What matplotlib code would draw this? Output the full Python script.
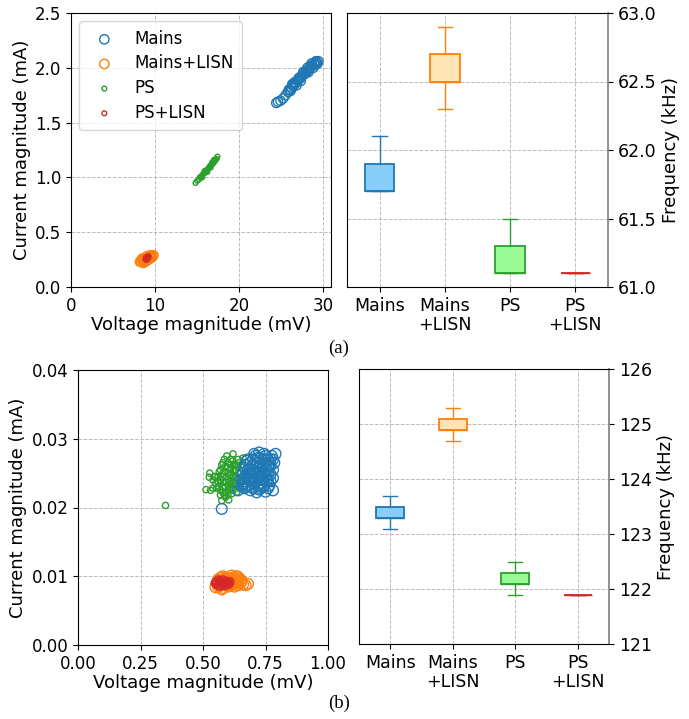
import matplotlib
matplotlib.use("Agg")
import matplotlib.pyplot as plt

labels = ['Mains', 'Mains+LISN', 'PS', 'PS+LISN']
box_labels = ['Mains', 'Mains\n+LISN', 'PS', 'PS\n+LISN']

# ---- (a) scatter data: voltage (mV), current (mA)
a_mains_x = [24.4, 24.6, 24.9, 25.2, 25.5, 25.8, 26.0, 26.1, 26.2, 26.3, 26.4, 26.5, 26.7, 26.8,
             26.9, 27.0, 27.2, 27.3, 27.4, 27.5, 27.6, 27.7, 27.8, 27.9, 28.0, 28.1, 28.2, 28.3,
             28.4, 28.5, 28.6, 28.7, 28.8, 28.9, 29.0, 29.1, 29.2, 29.3, 29.4,
             26.6, 27.1, 27.6, 28.1, 28.6, 29.1, 25.9, 26.4]
a_mains_y = [1.68, 1.69, 1.70, 1.72, 1.75, 1.78, 1.80, 1.79, 1.82, 1.85, 1.83, 1.85, 1.86, 1.84,
             1.88, 1.89, 1.90, 1.88, 1.92, 1.93, 1.96, 1.94, 1.95, 1.97, 1.96, 1.98, 1.96, 1.99,
             2.00, 2.02, 2.01, 2.02, 2.00, 2.03, 2.04, 2.06, 2.05, 2.04, 2.06,
             1.87, 1.91, 1.94, 2.00, 2.04, 2.03, 1.80, 1.85]
a_mlisn_x = [8.2, 8.3, 8.4, 8.5, 8.5, 8.6, 8.7, 8.8, 8.9, 9.0, 9.0, 9.1, 9.2, 9.3, 9.4, 9.4,
             9.5, 9.6, 9.7, 9.8]
a_mlisn_y = [0.23, 0.23, 0.25, 0.24, 0.26, 0.22, 0.25, 0.23, 0.26, 0.24, 0.28, 0.26, 0.25, 0.27,
             0.26, 0.29, 0.28, 0.27, 0.28, 0.29]
a_ps_x = [14.8, 15.0, 15.2, 15.3, 15.4, 15.5, 15.6, 15.6, 15.7, 15.8, 15.9, 15.9, 16.0, 16.1,
          16.2, 16.2, 16.3, 16.4, 16.5, 16.6, 16.6, 16.7, 16.8, 16.8, 16.9, 17.0, 17.0, 17.1,
          17.2, 17.3, 17.4]
a_ps_y = [0.95, 0.97, 0.98, 1.00, 1.00, 1.01, 1.02, 1.00, 1.03, 1.04, 1.04, 1.06, 1.05, 1.06,
          1.07, 1.05, 1.08, 1.09, 1.10, 1.11, 1.09, 1.12, 1.12, 1.14, 1.13, 1.14, 1.16, 1.15,
          1.16, 1.17, 1.19]
a_plisn_x = [8.85, 8.9, 8.95, 9.0, 9.0, 9.05, 9.1, 9.1, 9.15, 9.2, 9.2, 8.9, 9.0]
a_plisn_y = [0.25, 0.26, 0.25, 0.26, 0.27, 0.26, 0.27, 0.26, 0.28, 0.27, 0.28, 0.27, 0.25]

# ---- (b) scatter data
b_mains_x = [0.66, 0.67, 0.68, 0.69, 0.70, 0.71, 0.72, 0.73, 0.74, 0.75, 0.76, 0.77, 0.75, 0.73,
             0.71, 0.69, 0.68, 0.70, 0.72, 0.74, 0.76, 0.78, 0.77, 0.66, 0.67, 0.65, 0.70, 0.72,
             0.74, 0.73, 0.71, 0.69, 0.75, 0.78, 0.79, 0.78, 0.575, 0.64, 0.68, 0.76, 0.715,
             0.665, 0.745, 0.70, 0.725, 0.755, 0.685, 0.73,
             0.68, 0.69, 0.70, 0.71, 0.72, 0.72, 0.73, 0.74, 0.74, 0.75, 0.76, 0.76, 0.77, 0.77,
             0.71, 0.70, 0.69, 0.67, 0.68, 0.67, 0.66, 0.665, 0.675, 0.705, 0.725, 0.735, 0.745,
             0.755, 0.765, 0.775, 0.785, 0.715, 0.695, 0.725, 0.735, 0.705, 0.745, 0.765, 0.78,
             0.655]
b_mains_y = [0.0235, 0.0245, 0.0255, 0.0265, 0.0270, 0.0260, 0.0250, 0.0240, 0.0230, 0.0245,
             0.0260, 0.0270, 0.0275, 0.0272, 0.0275, 0.0245, 0.0232, 0.0228, 0.0232, 0.0252,
             0.0238, 0.0255, 0.0248, 0.0250, 0.0262, 0.0240, 0.0250, 0.0265, 0.0265, 0.0255,
             0.0242, 0.0225, 0.0223, 0.0270, 0.0278, 0.0243, 0.0198, 0.0225, 0.0270, 0.0228,
             0.0222, 0.0228, 0.0278, 0.0240, 0.0245, 0.0255, 0.0250, 0.0228,
             0.0240, 0.0255, 0.0262, 0.0268, 0.0258, 0.0272, 0.0262, 0.0258, 0.0242, 0.0265,
             0.0270, 0.0250, 0.0260, 0.0238, 0.0252, 0.0235, 0.0238, 0.0238, 0.0248, 0.0230,
             0.0242, 0.0258, 0.0268, 0.0278, 0.0280, 0.0235, 0.0232, 0.0240, 0.0262, 0.0275,
             0.0265, 0.0238, 0.0230, 0.0226, 0.0248, 0.0245, 0.0270, 0.0232, 0.0225, 0.0232]
b_mlisn_x = [0.56, 0.57, 0.58, 0.59, 0.60, 0.61, 0.62, 0.63, 0.64, 0.65, 0.62, 0.60, 0.58,
             0.555, 0.615, 0.635, 0.645, 0.66, 0.68, 0.67, 0.625, 0.60, 0.59, 0.57, 0.64, 0.65,
             0.56, 0.57, 0.58, 0.59, 0.61, 0.62, 0.63, 0.64, 0.60, 0.61, 0.55, 0.575, 0.655,
             0.625]
b_mlisn_y = [0.0085, 0.0090, 0.0095, 0.0088, 0.0092, 0.0096, 0.0098, 0.0095, 0.0092, 0.0090,
             0.0088, 0.0085, 0.0083, 0.0090, 0.0101, 0.0100, 0.0097, 0.0088, 0.0089, 0.0087,
             0.0092, 0.0097, 0.0093, 0.0086, 0.0087, 0.0095,
             0.0095, 0.0098, 0.0100, 0.0098, 0.0090, 0.0095, 0.0089, 0.0099, 0.0088, 0.0086,
             0.0084, 0.0081, 0.0093, 0.0085]
b_ps_x = [0.56, 0.57, 0.58, 0.59, 0.60, 0.61, 0.62, 0.63, 0.64, 0.65, 0.64, 0.62, 0.60, 0.59,
          0.58, 0.60, 0.62, 0.61, 0.57, 0.56, 0.55, 0.54, 0.545, 0.63, 0.65, 0.66, 0.655, 0.62,
          0.603, 0.59, 0.575, 0.512, 0.525, 0.527, 0.60, 0.61, 0.58, 0.57, 0.635, 0.64, 0.66,
          0.35, 0.595, 0.605, 0.615, 0.585,
          0.57, 0.58, 0.59, 0.60, 0.61, 0.62, 0.63, 0.64, 0.63, 0.61, 0.60, 0.59, 0.58, 0.57,
          0.56, 0.55, 0.555, 0.565, 0.575, 0.585, 0.595, 0.605, 0.615, 0.625, 0.635, 0.645,
          0.655, 0.60, 0.615, 0.585, 0.54, 0.53, 0.625, 0.645]
b_ps_y = [0.0230, 0.0240, 0.0250, 0.0260, 0.0265, 0.0255, 0.0245, 0.0235, 0.0240, 0.0250,
          0.0260, 0.0268, 0.0240, 0.0230, 0.0222, 0.0218, 0.0225, 0.0235, 0.0225, 0.0245,
          0.0235, 0.0228, 0.0245, 0.0255, 0.0232, 0.0245, 0.0262, 0.0278, 0.0211, 0.0215,
          0.0210, 0.0226, 0.0244, 0.0250, 0.0250, 0.0262, 0.0265, 0.0255, 0.0222, 0.0270,
          0.0272, 0.0203, 0.0245, 0.0228, 0.0242, 0.0237,
          0.0235, 0.0245, 0.0252, 0.0258, 0.0248, 0.0238, 0.0245, 0.0250, 0.0262, 0.0270,
          0.0232, 0.0222, 0.0230, 0.0218, 0.0238, 0.0245, 0.0228, 0.0252, 0.0262, 0.0270,
          0.0275, 0.0238, 0.0228, 0.0252, 0.0232, 0.0228, 0.0240, 0.0225, 0.0220, 0.0218,
          0.0240, 0.0225, 0.0262, 0.0265]
b_plisn_x = [0.56, 0.57, 0.58, 0.59, 0.60, 0.61, 0.575, 0.585, 0.595, 0.565, 0.605, 0.58,
             0.59, 0.57, 0.60, 0.55,
             0.55, 0.56, 0.57, 0.58, 0.59, 0.60, 0.61, 0.565, 0.555, 0.545, 0.575, 0.595]
b_plisn_y = [0.0087, 0.0090, 0.0092, 0.0089, 0.0091, 0.0093, 0.0085, 0.0087, 0.0094, 0.0093,
             0.0087, 0.0089, 0.0091, 0.0088, 0.0089, 0.0089,
             0.0093, 0.0096, 0.0095, 0.0096, 0.0085, 0.0093, 0.0090, 0.0084, 0.0086, 0.0090,
             0.0092, 0.0088]

# ---- boxplot summaries (kHz): whisker low, q1, median, q3, whisker high
a_whislo = [61.7, 62.3, 61.1, 61.1]
a_q1 = [61.7, 62.5, 61.1, 61.1]
a_med = [61.7, 62.5, 61.1, 61.1]
a_q3 = [61.9, 62.7, 61.3, 61.1]
a_whishi = [62.1, 62.9, 61.5, 61.1]

b_whislo = [123.1, 124.7, 121.9, 121.9]
b_q1 = [123.3, 124.9, 122.1, 121.9]
b_med = [123.3, 124.9, 122.1, 121.9]
b_q3 = [123.5, 125.1, 122.3, 121.9]
b_whishi = [123.7, 125.3, 122.5, 121.9]

edge_colors = ['tab:blue', 'tab:orange', 'tab:green', 'tab:red']
face_colors = ['#87CEFA', '#FFE4B5', '#98FB98', 'none']

W, H = 689, 719
fig = plt.figure(figsize=(W / 100, H / 100), dpi=100)
plt.rcParams['font.size'] = 12


def px_axes(l, t, r, b):
    return fig.add_axes([l / W, 1 - b / H, (r - l) / W, (b - t) / H])


def scatter_panel(ax, data, big, small):
    sizes = [big, big, small, small]
    zorders = [2.2, 2.3, 2.1, 2.4]
    for (x, y), lab, c, s, z in zip(data, labels, edge_colors, sizes, zorders):
        ax.scatter(x, y, s=s, facecolors='none', edgecolors=c, linewidths=1.0, label=lab, zorder=z)
    ax.grid(True, linestyle='--', color='#bbbbbb', linewidth=0.7)
    ax.set_axisbelow(True)
    ax.set_xlabel('Voltage magnitude (mV)', fontsize=13, labelpad=1)
    ax.set_ylabel('Current magnitude (mA)', fontsize=13, labelpad=3)
    ax.tick_params(labelsize=12)


def box_panel(ax, whislo, q1, med, q3, whishi, ylim, yticks):
    stats = []
    for i in range(4):
        stats.append({'whislo': whislo[i], 'q1': q1[i], 'med': med[i], 'q3': q3[i],
                      'whishi': whishi[i], 'fliers': []})
    bp = ax.bxp(stats, positions=[1, 2, 3, 4], widths=0.45, patch_artist=True, showfliers=False)
    for i in range(4):
        bp['boxes'][i].set_facecolor(face_colors[i])
        bp['boxes'][i].set_edgecolor(edge_colors[i])
        bp['boxes'][i].set_linewidth(1.3)
        bp['medians'][i].set_color(edge_colors[i])
        for k in (2 * i, 2 * i + 1):
            bp['whiskers'][k].set_color(edge_colors[i])
            bp['caps'][k].set_color(edge_colors[i])
    ax.set_xlim(0.5, 4.5)
    ax.set_ylim(*ylim)
    ax.set_yticks(yticks)
    ax.set_xticks([1, 2, 3, 4])
    ax.set_xticklabels(box_labels, fontsize=12.5, linespacing=1.1)
    ax.yaxis.tick_right()
    ax.yaxis.set_label_position('right')
    ax.set_ylabel('Frequency (kHz)', fontsize=13, labelpad=4)
    ax.tick_params(labelsize=12.5)
    ax.spines['right'].set_color('#888888')
    ax.spines['right'].set_linewidth(1.3)
    ax.grid(True, linestyle='--', color='#bbbbbb', linewidth=0.7)
    ax.set_axisbelow(True)


# (a)
ax1 = px_axes(71, 13, 331, 287)
scatter_panel(ax1, [(a_mains_x, a_mains_y), (a_mlisn_x, a_mlisn_y),
                    (a_ps_x, a_ps_y), (a_plisn_x, a_plisn_y)], 45, 12)
ax1.set_xlim(0, 30.9)
ax1.set_ylim(0, 2.5)
ax1.set_xticks([0, 10, 20, 30])
ax1.set_yticks([0.0, 0.5, 1.0, 1.5, 2.0, 2.5])
ax1.legend(loc='upper left', fontsize=12, borderpad=0.5, handletextpad=0.8,
           labelspacing=0.4, borderaxespad=0.5)

ax2 = px_axes(347, 13, 608, 287)
box_panel(ax2, a_whislo, a_q1, a_med, a_q3, a_whishi, (61.0, 63.0),
          [61.0, 61.5, 62.0, 62.5, 63.0])
ax2.set_yticklabels(['61.0', '61.5', '62.0', '62.5', '63.0'])

fig.text(339 / W, 1 - 348 / H, '(a)', ha='center', va='center', family='Liberation Serif', fontsize=13.5)

# (b)
ax3 = px_axes(78, 370, 328, 645)
scatter_panel(ax3, [(b_mains_x, b_mains_y), (b_mlisn_x, b_mlisn_y),
                    (b_ps_x, b_ps_y), (b_plisn_x, b_plisn_y)], 60, 20)
ax3.set_xlim(0, 1.0)
ax3.set_ylim(0, 0.04)
ax3.set_xticks([0.0, 0.25, 0.5, 0.75, 1.0])
ax3.set_xticklabels(['0.00', '0.25', '0.50', '0.75', '1.00'])
ax3.set_yticks([0.0, 0.01, 0.02, 0.03, 0.04])
ax3.set_yticklabels(['0.00', '0.01', '0.02', '0.03', '0.04'])

ax4 = px_axes(359, 369, 609, 644)
box_panel(ax4, b_whislo, b_q1, b_med, b_q3, b_whishi, (121, 126),
          [121, 122, 123, 124, 125, 126])

fig.text(339 / W, 1 - 703 / H, '(b)', ha='center', va='center', family='Liberation Serif', fontsize=13.5)

fig.savefig('out.png', dpi=100)
